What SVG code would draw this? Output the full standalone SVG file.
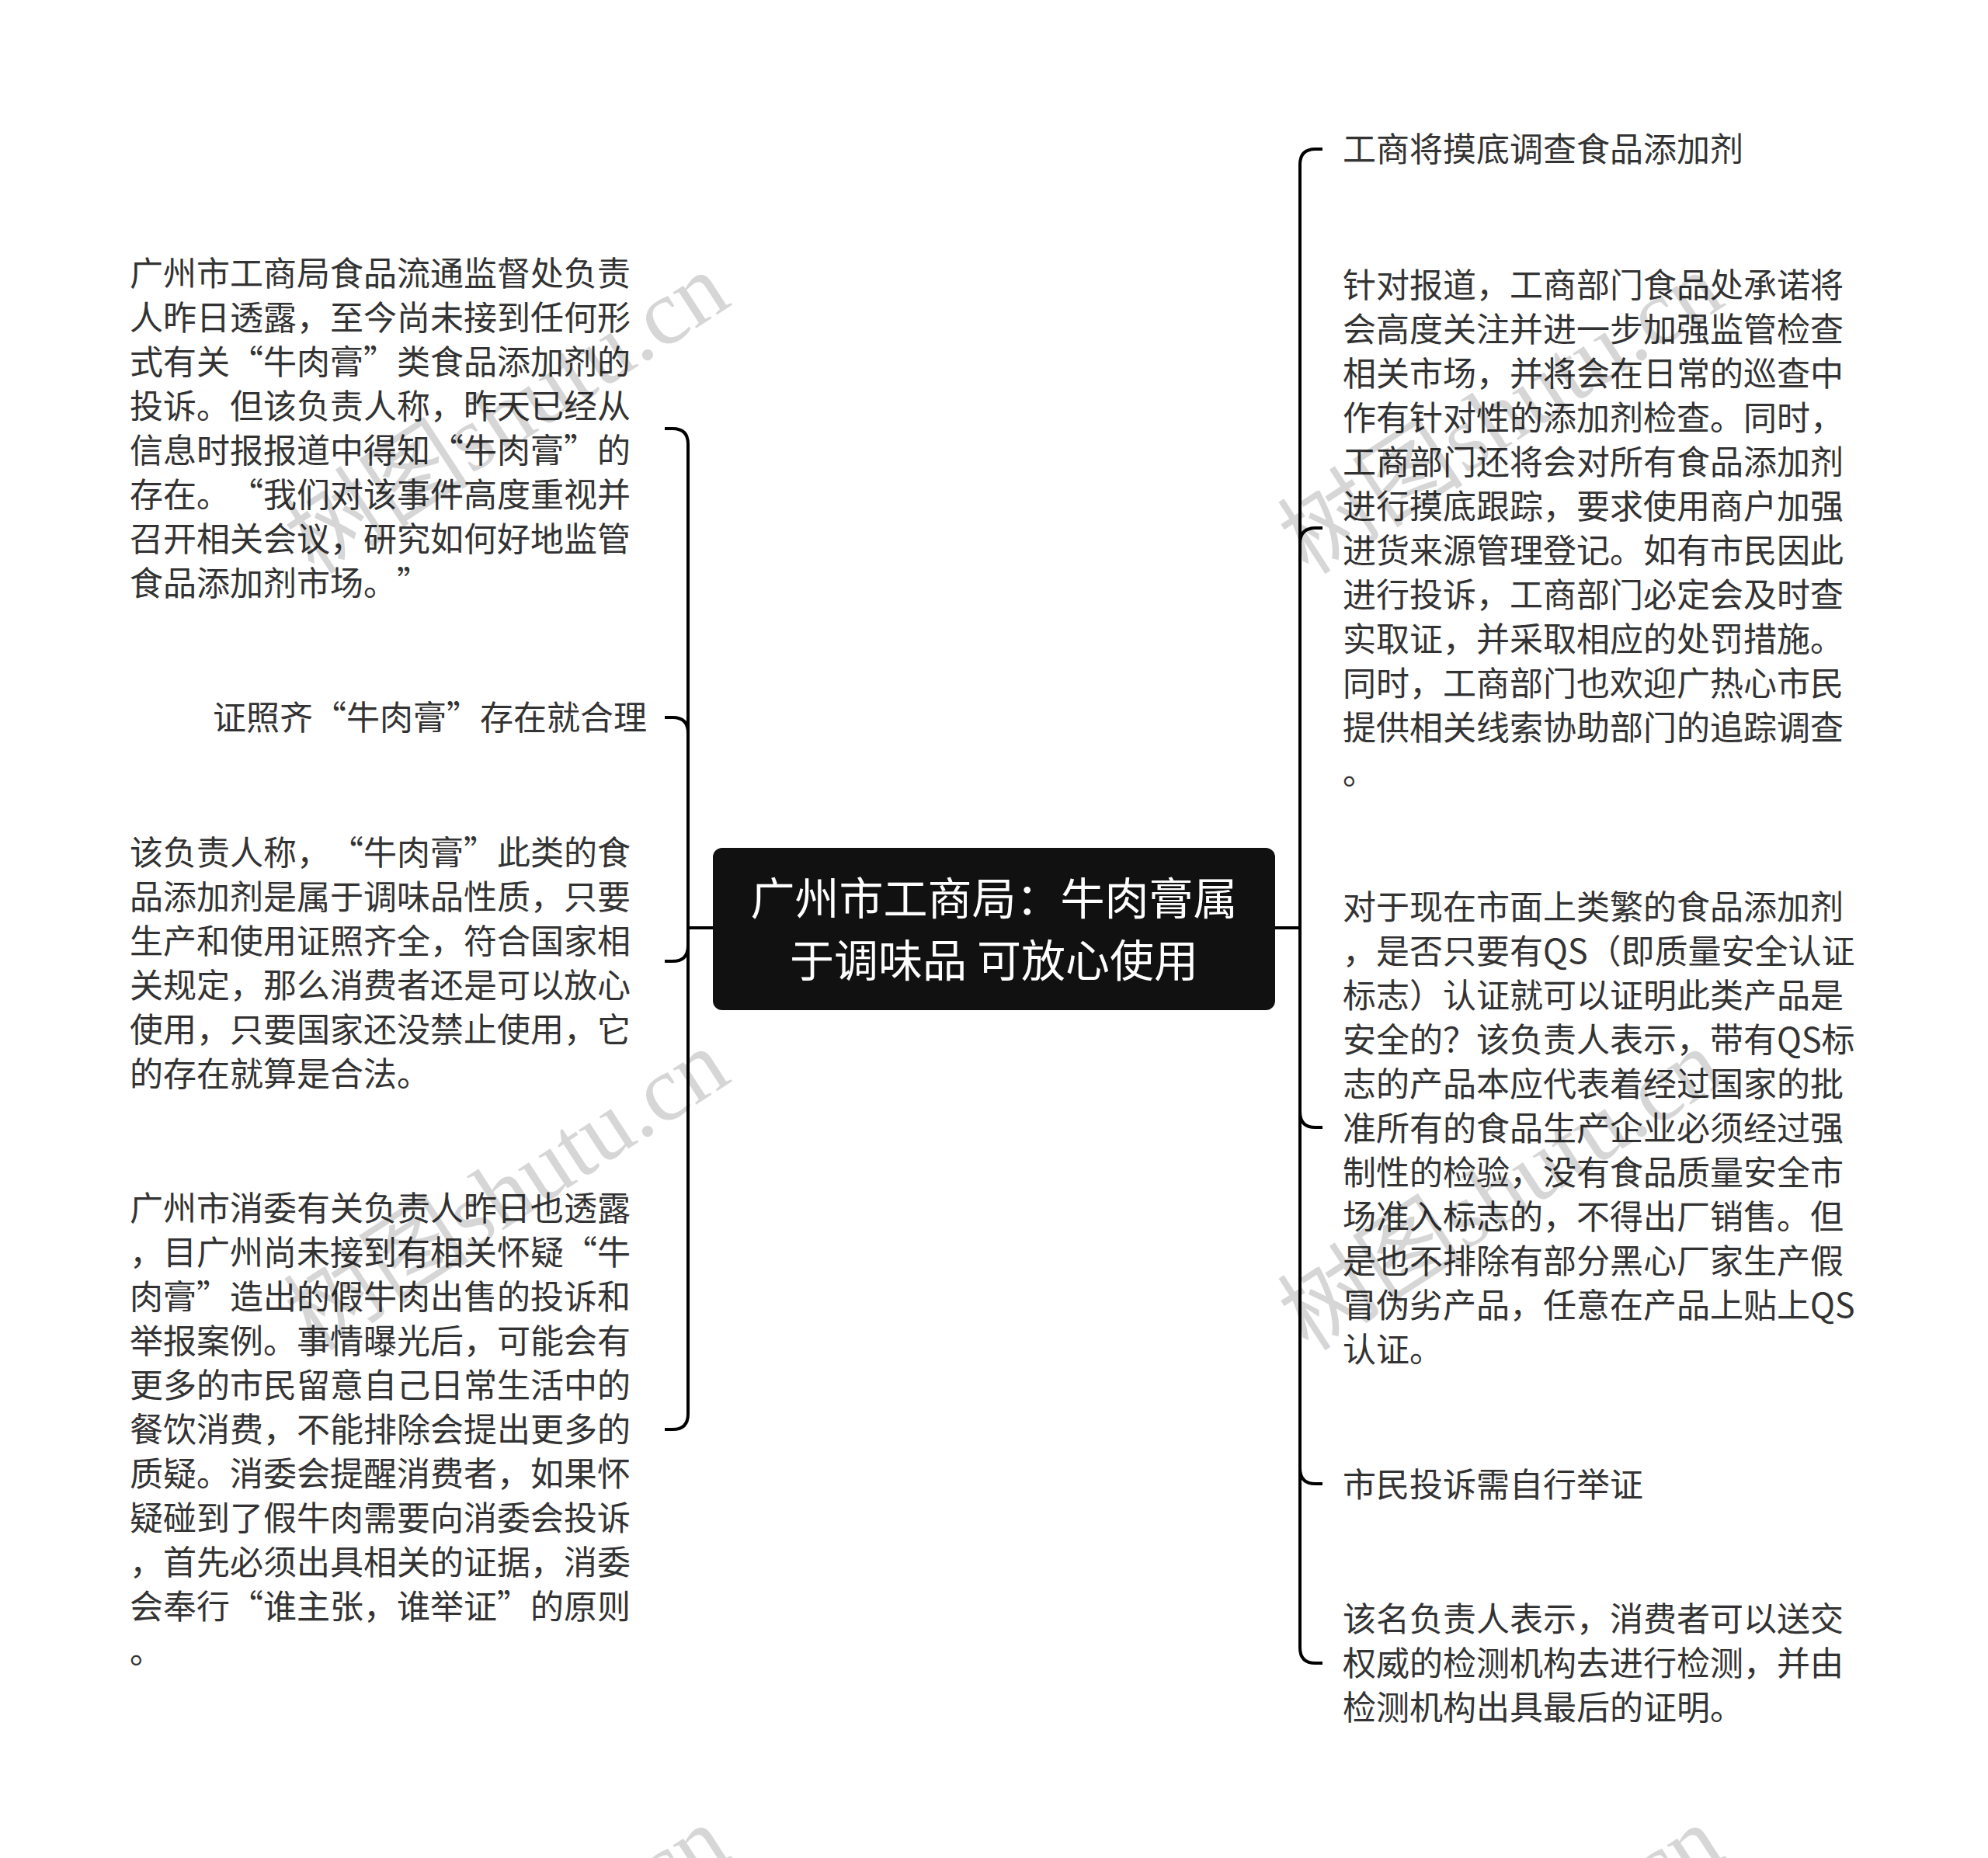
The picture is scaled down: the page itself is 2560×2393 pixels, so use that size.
<svg xmlns="http://www.w3.org/2000/svg" width="2560" height="2393" viewBox="0 0 2560 2393">
<style>
.t{font-family:"Noto Sans CJK SC","Noto Sans",sans-serif;font-size:43px;fill:#333333;text-spacing-trim:space-all;font-kerning:none}
.rt{font-family:"Noto Sans CJK SC","Noto Sans",sans-serif;font-size:57px;fill:#ffffff;text-anchor:middle;text-spacing-trim:space-all}
.c{fill:none;stroke:#000000;stroke-width:4;stroke-linecap:butt}
.wm{font-family:"Liberation Serif","Noto Sans CJK SC",serif;font-size:120px;fill:#000000;fill-opacity:0.16}
</style>
<rect x="0" y="0" width="2560" height="2393" fill="#ffffff"/>
<g id="connectors">
<path class="c" d="M918,1195 H886 V572 Q886,552 866,552 H856"/>
<path class="c" d="M918,1195 H886 V944 Q886,924 866,924 H856"/>
<path class="c" d="M918,1195 H886 V1218 Q886,1238 866,1238 H856"/>
<path class="c" d="M918,1195 H886 V1821 Q886,1841 866,1841 H856"/>
<path class="c" d="M1642,1195 H1674 V212 Q1674,192 1694,192 H1703"/>
<path class="c" d="M1642,1195 H1674 V700 Q1674,680 1694,680 H1703"/>
<path class="c" d="M1642,1195 H1674 V1432 Q1674,1452 1694,1452 H1703"/>
<path class="c" d="M1642,1195 H1674 V1891 Q1674,1911 1694,1911 H1703"/>
<path class="c" d="M1642,1195 H1674 V2122 Q1674,2142 1694,2142 H1703"/>
</g>
<g id="root">
<rect x="918" y="1092" width="724" height="209" rx="12" ry="12" fill="#111111"/>
<text class="rt"><tspan x="1280" y="1178">广州市工商局：牛肉膏属</tspan><tspan x="1280" y="1258">于调味品 可放心使用</tspan></text>
</g>
<g id="node-l1">
<text class="t"><tspan x="167" y="368">广州市工商局食品流通监督处负责</tspan><tspan x="167" y="425">人昨日透露，至今尚未接到任何形</tspan><tspan x="167" y="482">式有关“牛肉膏”类食品添加剂的</tspan><tspan x="167" y="539">投诉。但该负责人称，昨天已经从</tspan><tspan x="167" y="596">信息时报报道中得知“牛肉膏”的</tspan><tspan x="167" y="653">存在。“我们对该事件高度重视并</tspan><tspan x="167" y="710">召开相关会议，研究如何好地监管</tspan><tspan x="167" y="767">食品添加剂市场。”</tspan></text>
</g>
<g id="node-l2">
<text class="t" x="833" y="940" text-anchor="end">证照齐“牛肉膏”存在就合理</text>
</g>
<g id="node-l3">
<text class="t"><tspan x="167" y="1114">该负责人称，“牛肉膏”此类的食</tspan><tspan x="167" y="1171">品添加剂是属于调味品性质，只要</tspan><tspan x="167" y="1228">生产和使用证照齐全，符合国家相</tspan><tspan x="167" y="1285">关规定，那么消费者还是可以放心</tspan><tspan x="167" y="1342">使用，只要国家还没禁止使用，它</tspan><tspan x="167" y="1399">的存在就算是合法。</tspan></text>
</g>
<g id="node-l4">
<text class="t"><tspan x="167" y="1572">广州市消委有关负责人昨日也透露</tspan><tspan x="167" y="1629">，目广州尚未接到有相关怀疑“牛</tspan><tspan x="167" y="1686">肉膏”造出的假牛肉出售的投诉和</tspan><tspan x="167" y="1743">举报案例。事情曝光后，可能会有</tspan><tspan x="167" y="1800">更多的市民留意自己日常生活中的</tspan><tspan x="167" y="1857">餐饮消费，不能排除会提出更多的</tspan><tspan x="167" y="1914">质疑。消委会提醒消费者，如果怀</tspan><tspan x="167" y="1971">疑碰到了假牛肉需要向消委会投诉</tspan><tspan x="167" y="2028">，首先必须出具相关的证据，消委</tspan><tspan x="167" y="2085">会奉行“谁主张，谁举证”的原则</tspan><tspan x="167" y="2142">。</tspan></text>
</g>
<g id="node-r1">
<text class="t" x="1729" y="208">工商将摸底调查食品添加剂</text>
</g>
<g id="node-r2">
<text class="t"><tspan x="1729" y="383">针对报道，工商部门食品处承诺将</tspan><tspan x="1729" y="440">会高度关注并进一步加强监管检查</tspan><tspan x="1729" y="497">相关市场，并将会在日常的巡查中</tspan><tspan x="1729" y="554">作有针对性的添加剂检查。同时，</tspan><tspan x="1729" y="611">工商部门还将会对所有食品添加剂</tspan><tspan x="1729" y="668">进行摸底跟踪，要求使用商户加强</tspan><tspan x="1729" y="725">进货来源管理登记。如有市民因此</tspan><tspan x="1729" y="782">进行投诉，工商部门必定会及时查</tspan><tspan x="1729" y="839">实取证，并采取相应的处罚措施。</tspan><tspan x="1729" y="896">同时，工商部门也欢迎广热心市民</tspan><tspan x="1729" y="953">提供相关线索协助部门的追踪调查</tspan><tspan x="1729" y="1010">。</tspan></text>
</g>
<g id="node-r3">
<text class="t"><tspan x="1729" y="1184">对于现在市面上类繁的食品添加剂</tspan><tspan x="1729" y="1241">，是否只要有QS（即质量安全认证</tspan><tspan x="1729" y="1298">标志）认证就可以证明此类产品是</tspan><tspan x="1729" y="1355">安全的？该负责人表示，带有QS标</tspan><tspan x="1729" y="1412">志的产品本应代表着经过国家的批</tspan><tspan x="1729" y="1469">准所有的食品生产企业必须经过强</tspan><tspan x="1729" y="1526">制性的检验，没有食品质量安全市</tspan><tspan x="1729" y="1583">场准入标志的，不得出厂销售。但</tspan><tspan x="1729" y="1640">是也不排除有部分黑心厂家生产假</tspan><tspan x="1729" y="1697">冒伪劣产品，任意在产品上贴上QS</tspan><tspan x="1729" y="1754">认证。</tspan></text>
</g>
<g id="node-r4">
<text class="t" x="1729" y="1928">市民投诉需自行举证</text>
</g>
<g id="node-r5">
<text class="t"><tspan x="1729" y="2101">该名负责人表示，消费者可以送交</tspan><tspan x="1729" y="2158">权威的检测机构去进行检测，并由</tspan><tspan x="1729" y="2215">检测机构出具最后的证明。</tspan></text>
</g>
<g id="watermarks">
<text class="wm" transform="translate(405,742) rotate(-33)">树图shutu.cn</text>
<text class="wm" transform="translate(1685,742) rotate(-33)">树图shutu.cn</text>
<text class="wm" transform="translate(405,1742) rotate(-33)">树图shutu.cn</text>
<text class="wm" transform="translate(1685,1742) rotate(-33)">树图shutu.cn</text>
<text class="wm" transform="translate(405,2742) rotate(-33)">树图shutu.cn</text>
<text class="wm" transform="translate(1685,2742) rotate(-33)">树图shutu.cn</text>
</g>
</svg>
